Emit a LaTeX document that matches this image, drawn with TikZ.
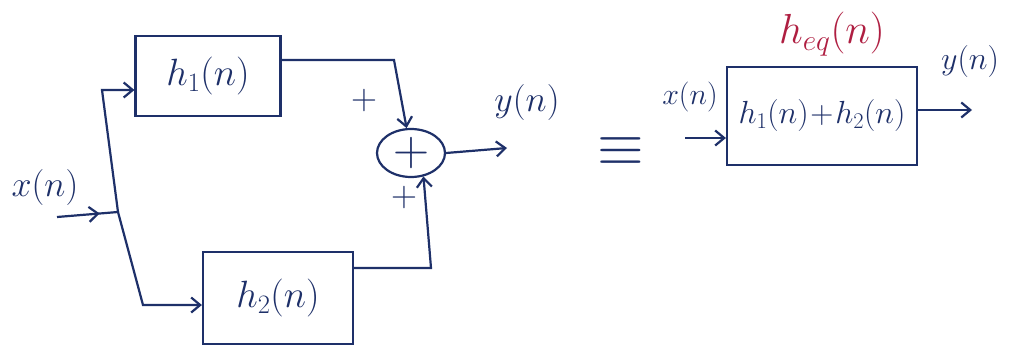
\RequirePackage{fix-cm}
\documentclass[tikz,border=0pt]{standalone}
\usetikzlibrary{arrows.meta,shapes.geometric,decorations.markings}
\definecolor{ink}{RGB}{30,48,105}
\definecolor{redink}{RGB}{175,30,65}
\begin{document}
\begin{tikzpicture}[x=1pt,y=-1pt,
  wire/.style={draw=ink,line width=2.2pt,-{Straight Barb[length=9pt,width=15pt]}},
  midarrow/.style={draw=ink,line width=2.2pt,postaction={decorate},
    decoration={markings,mark=at position #1 with {\arrow{Straight Barb[length=9pt,width=15pt]}}}},
  blockbox/.style={draw=ink,line width=2.2pt,rectangle,text=ink,font=\fontsize{38}{42}\selectfont},
  lab/.style={text=ink,font=\fontsize{36}{40}\selectfont,inner sep=0pt},
  sumnode/.style={draw=ink,line width=2.2pt,ellipse,minimum width=68pt,minimum height=48pt,inner sep=0pt,text=ink,font=\fontsize{50}{54}\selectfont}
]
\useasboundingbox (0,0) rectangle (1013,356);
\fill[white] (0,0) rectangle (1013,356);

% blocks
\node[blockbox,minimum width=145pt,minimum height=80pt] (h1) at (208,76) {$h_1(n)$};
\node[blockbox,minimum width=150pt,minimum height=92pt] (h2) at (278,298) {$h_2(n)$};
\node[sumnode] (sum) at (411,153) {$+$};
\node[blockbox,minimum width=190pt,minimum height=98pt,inner sep=2pt,font=\fontsize{32}{36}\selectfont] (heq) at (822,116) {$h_1(n)\!+\!h_2(n)$};

% coordinates
\coordinate (xin) at (57,217);
\coordinate (j) at (118,212);
\coordinate (jt) at (102,90);
\coordinate (jb) at (143,305);
\coordinate (t1) at (394,60);
\coordinate (b1) at (431,268);
\coordinate (yout) at (507,148);
\coordinate (xin2) at (685,138);
\coordinate (yout2) at (972,110);

% left diagram wires
\draw[midarrow=0.7] (xin) -- (j);
\draw[wire] (j) -- (jt) -- (jt -| h1.west);
\draw[wire] (j) -- (jb) -- (jb -| h2.west);
\draw[wire] (h1.east |- t1) -- (t1) -- (sum.100);
\draw[wire] (h2.east |- b1) -- (b1) -- (sum.-62);
\draw[wire] (sum.east) -- (yout);

% labels
\node[lab] (lx) at (45,187) {$x(n)$};
\node[lab] (ly) at (527,103) {$y(n)$};
\node[lab] (p1) at (364,101) {$+$};
\node[lab] (p2) at (404,197) {$+$};

% equivalence
\node[lab,font=\fontsize{60}{64}\selectfont] (eq) at (621,152) {$\equiv$};

% right diagram
\draw[wire] (xin2) -- (heq.west |- xin2);
\draw[wire] (heq.east |- yout2) -- (yout2);
\node[lab,font=\fontsize{30}{34}\selectfont] (lx2) at (690,97) {$x(n)$};
\node[lab,font=\fontsize{32}{36}\selectfont] (ly2) at (970,62) {$y(n)$};
\node[lab,text=redink,font=\fontsize{42}{46}\selectfont] (lh) at (832,34) {$h_{eq}(n)$};
\end{tikzpicture}
\end{document}
